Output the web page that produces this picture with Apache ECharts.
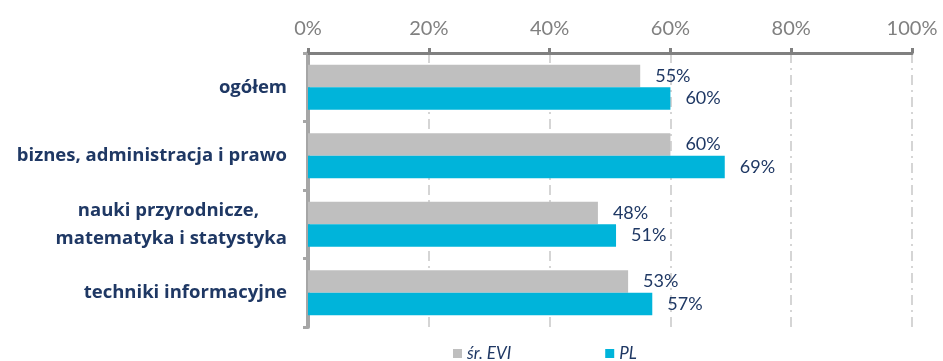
<!DOCTYPE html>
<html><head><meta charset="utf-8">
<script src="https://cdn.jsdelivr.net/npm/echarts@6/dist/echarts.min.js"></script>
<style>html,body{margin:0;padding:0;background:#fff}#c{width:943px;height:361px}</style>
</head><body><div id="c"></div>
<script>
const categories = ['ogółem', 'biznes, administracja i prawo', 'nauki przyrodnicze,\nmatematyka i statystyka', 'techniki informacyjne'];
const seriesNames = ['śr. EVI', 'PL'];
const evi = [55, 60, 48, 53];
const pl = [60, 69, 51, 57];
const xTicks = [0, 20, 40, 60, 80, 100];

const navy = '#1f3864';
const catFont = {color:navy, fontWeight:'bold', fontFamily:'Open Sans', fontSize:18.5, lineHeight:28};
const chart = echarts.init(document.getElementById('c'));
const lbl = {show:true, position:'right', distance:15, formatter: p => p.value + '%', color: navy, fontFamily:'Lato', fontSize:18};
chart.setOption({
  animation:false,
  grid:{left:308, right:31, top:53, bottom:34},
  legend:{left:448, top:340, itemWidth:9, itemHeight:9, itemGap:94, icon:'rect',
    textStyle:{color:navy, fontStyle:'italic', fontFamily:'Lato', fontSize:17}},
  xAxis:{type:'value', position:'top', min:xTicks[0], max:xTicks[xTicks.length-1], interval:20,
    axisLine:{show:true, lineStyle:{color:'#808080', width:3}},
    axisTick:{show:true, length:5, lineStyle:{color:'#808080', width:3}},
    axisLabel:{formatter:'{value}%', color:'#808080', fontFamily:'Lato', fontSize:20, margin:14},
    splitLine:{show:true, lineStyle:{color:'#c8c8c8', width:1.5, type:[10,5,2,5]}}},
  yAxis:{type:'category', inverse:true, data:categories,
    axisLine:{show:true, lineStyle:{color:'#a6a6a6', width:4}},
    axisTick:{show:true, length:5, lineStyle:{color:'#a6a6a6', width:3}},
    axisLabel:Object.assign({margin:21,
      formatter: v => v.indexOf('\n')>=0 ? '{a|'+v.split('\n')[0]+'}\n{b|'+v.split('\n')[1]+'}' : v,
      rich:{a:Object.assign({padding:[0,28,0,0]}, catFont), b:Object.assign({}, catFont)}}, catFont)},
  series:[
    {name:seriesNames[0], type:'bar', data:evi, barGap:'0%', barCategoryGap:'34%', itemStyle:{color:'#bfbfbf'}, label:lbl},
    {name:seriesNames[1], type:'bar', data:pl, itemStyle:{color:'#00b4da'}, label:lbl}
  ]
});
</script></body></html>
